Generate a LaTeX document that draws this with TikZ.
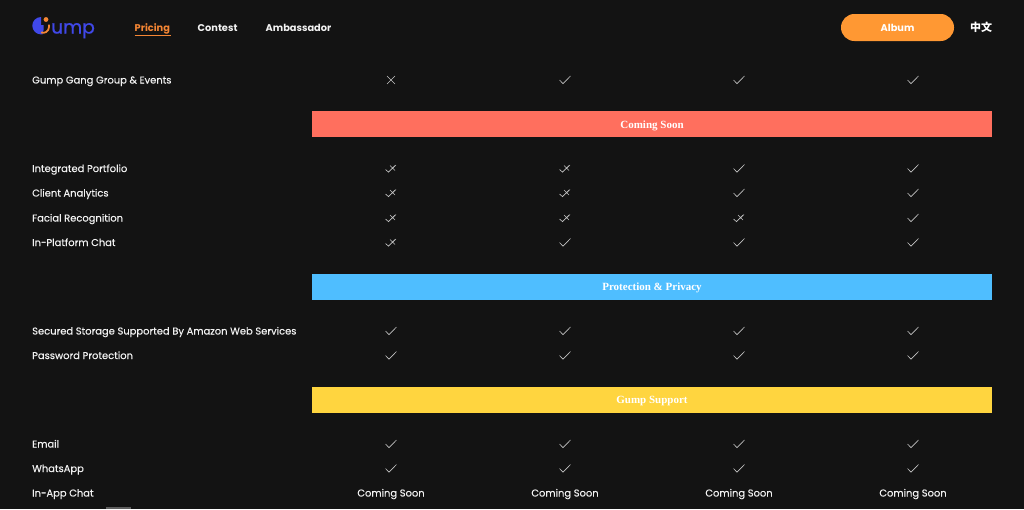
\documentclass[tikz,border=0pt]{standalone}
\usepackage{fontspec}
\setmainfont{Poppins}
\newfontfamily\serifhead{Liberation Serif}[BoldFont={Liberation Serif Bold}]
\newfontfamily\cjk{Noto Sans CJK SC}
\definecolor{bg}{HTML}{131313}
\definecolor{txt}{HTML}{F2F2F2}
\definecolor{markc}{HTML}{C4C4C4}
\definecolor{orangeb}{HTML}{FF9833}
\definecolor{navo}{HTML}{F58634}
\definecolor{logob}{HTML}{4048E8}
\definecolor{redb}{HTML}{FF6F5E}
\definecolor{blueb}{HTML}{4FBEFF}
\definecolor{yellowb}{HTML}{FFD53F}
\tikzset{
  x=1pt,y=-1pt,
  rowlabel/.style={anchor=base west,inner sep=0pt,text=txt,font=\fontsize{9.93}{13}\selectfont\addfontfeatures{FakeBold=0.25}},
  navlabel/.style={anchor=base west,inner sep=0pt,text=txt,font=\fontsize{9.8}{13}\selectfont\bfseries},
  soon/.style={anchor=base,inner sep=0pt,text=txt,font=\fontsize{9.93}{13}\selectfont\addfontfeatures{FakeBold=0.25}},
  bandtext/.style={anchor=base,inner sep=0pt,text=white,font=\serifhead\fontsize{11}{12}\selectfont\bfseries},
  markline/.style={draw=markc,line width=0.65pt},
  pics/ok/.style={code={\draw[markline] (-5.5,0) -- (-2,3.6) -- (5.5,-4);}},
  pics/no/.style={code={\draw[markline] (-4,-4) -- (4,4) (4,-4) -- (-4,4);}},
  pics/both/.style={code={\draw[markline] (-5.5,1) -- (-2.5,3.6) -- (5,-3.5) (-1,-3) -- (4,2) (4,-3) -- (-1,2);}},
}
\newcommand{\rowmarks}[5]{\path (391,#1) pic{#2} (565,#1) pic{#3} (739,#1) pic{#4} (913,#1) pic{#5};}
\begin{document}
\begin{tikzpicture}
\useasboundingbox (0,0) rectangle (1024,509);
\fill[bg] (0,0) rectangle (1024,509);
% logo
\fill[logob] (41,17) arc (-90:-270:8.7) -- (42.5,34.3) -- (43.5,30) -- (43.5,25) -- (41,25) -- cycle;
\fill[navo] (46,19.5) circle (2.4);
\draw[navo,line width=1.8pt] (49,24.5) -- (49,27) arc (0:110:5.8);
\node[anchor=base west,inner sep=0pt,text=logob,font=\fontsize{18.6}{20}\selectfont\addfontfeatures{FakeBold=0.8}] (logo) at (51,33.5) {ump};
% nav
\node[navlabel,text=navo] (pricing) at (134.5,31) {Pricing};
\draw[navo,line width=1.5pt] (134.5,35.5) -- (171,35.5);
\node[navlabel] (contest) at (197.5,31) {Contest};
\node[navlabel] (amb) at (265.5,31) {Ambassador};
\fill[orangeb,rounded corners=13.4pt] (841,14) rectangle (954,41);
\node[anchor=base,inner sep=0pt,text=white,font=\fontsize{9.8}{13}\selectfont\bfseries] (album) at (897.5,31) {Album};
\node[anchor=base,inner sep=0pt,text=white,font=\cjk\fontsize{11}{13}\selectfont\bfseries] (lang) at (981,31.5) {中文};
% bands
\fill[redb] (312,111) rectangle (992,137);
\node[bandtext] (b1) at (652,128.3) {Coming Soon};
\fill[blueb] (312,274) rectangle (992,300);
\node[bandtext] (b2) at (652,290.8) {Protection \& Privacy};
\fill[yellowb] (312,387) rectangle (992,413);
\node[bandtext] (b3) at (652,403.8) {Gump Support};
% rows
\node[rowlabel] (r1) at (32,83.5) {Gump Gang Group \& Events};
\node[rowlabel] (r2) at (32,172) {Integrated Portfolio};
\node[rowlabel] (r3) at (32,196.5) {Client Analytics};
\node[rowlabel] (r4) at (32,221.5) {Facial Recognition};
\node[rowlabel] (r5) at (32,246) {In-Platform Chat};
\node[rowlabel] (r6) at (32,334.5) {Secured Storage Supported By Amazon Web Services};
\node[rowlabel] (r7) at (32,359) {Password Protection};
\node[rowlabel] (r8) at (32,447.5) {Email};
\node[rowlabel] (r9) at (32,472) {WhatsApp};
\node[rowlabel] (r10) at (32,496.5) {In-App Chat};
\rowmarks{80}{no}{ok}{ok}{ok}
\rowmarks{168.5}{both}{both}{ok}{ok}
\rowmarks{193}{both}{both}{ok}{ok}
\rowmarks{218}{both}{both}{both}{ok}
\rowmarks{242.5}{both}{ok}{ok}{ok}
\rowmarks{331}{ok}{ok}{ok}{ok}
\rowmarks{355.5}{ok}{ok}{ok}{ok}
\rowmarks{444}{ok}{ok}{ok}{ok}
\rowmarks{468.5}{ok}{ok}{ok}{ok}
\node[soon] (s1) at (391,496.5) {Coming Soon};
\node[soon] (s2) at (565,496.5) {Coming Soon};
\node[soon] (s3) at (739,496.5) {Coming Soon};
\node[soon] (s4) at (913,496.5) {Coming Soon};
\fill[gray!70!bg] (106,506.5) rectangle (131,509);
\end{tikzpicture}
\end{document}
